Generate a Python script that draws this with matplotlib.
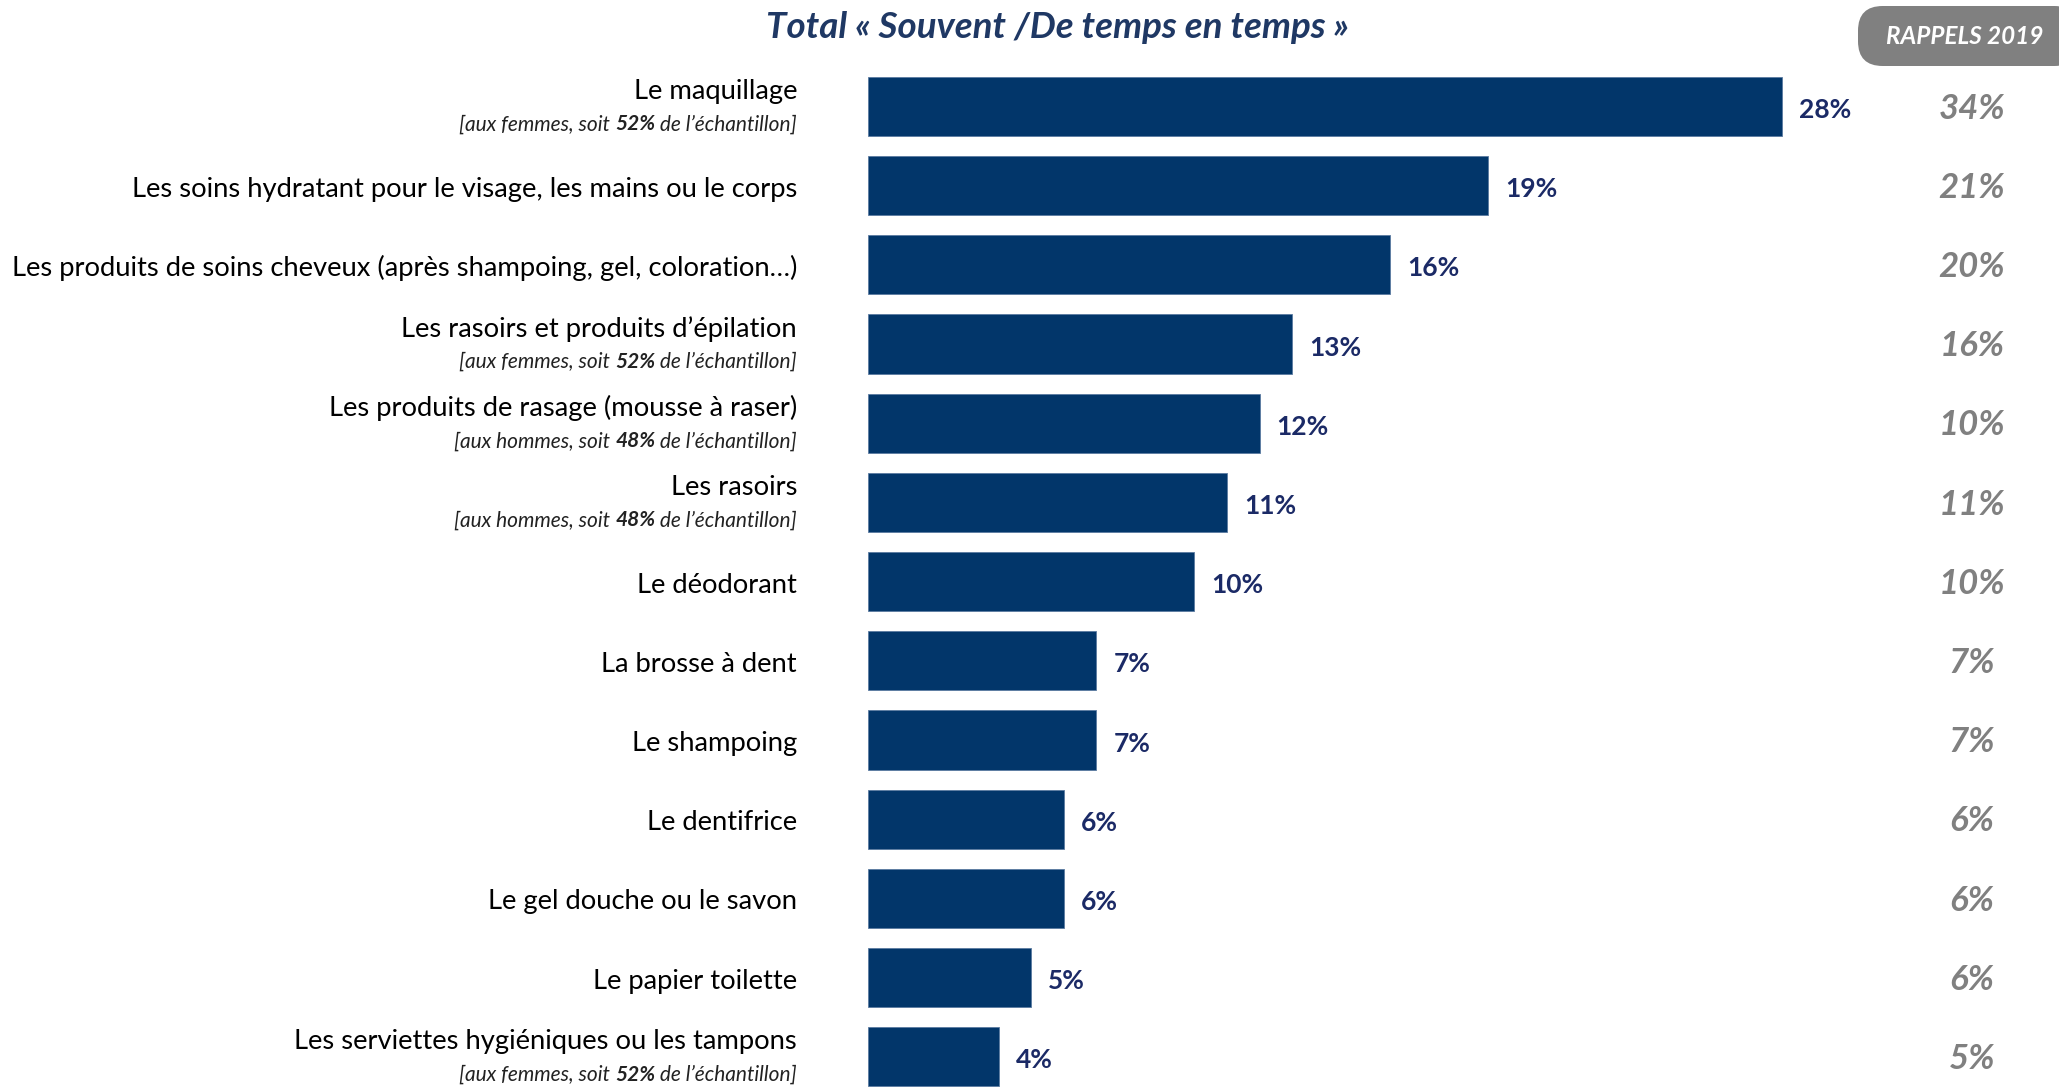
import matplotlib
matplotlib.use("Agg")
import matplotlib.pyplot as plt
from matplotlib.patches import FancyBboxPatch

plt.rcParams['font.family'] = ['Lato', 'DejaVu Sans']

categories = [
    "Le maquillage",
    "Les soins hydratant pour le visage, les mains ou le corps",
    "Les produits de soins cheveux (après shampoing, gel, coloration…)",
    "Les rasoirs et produits d’épilation",
    "Les produits de rasage (mousse à raser)",
    "Les rasoirs",
    "Le déodorant",
    "La brosse à dent",
    "Le shampoing",
    "Le dentifrice",
    "Le gel douche ou le savon",
    "Le papier toilette",
    "Les serviettes hygiéniques ou les tampons",
]
subnotes = [
    ("aux femmes", "52%"),
    None,
    None,
    ("aux femmes", "52%"),
    ("aux hommes", "48%"),
    ("aux hommes", "48%"),
    None, None, None, None, None, None,
    ("aux femmes", "52%"),
]
values = [28, 19, 16, 13, 12, 11, 10, 7, 7, 6, 6, 5, 4]
rappels = [34, 21, 20, 16, 10, 11, 10, 7, 7, 6, 6, 6, 5]
title = "Total « Souvent /De temps en temps »"
box_label = "RAPPELS 2019"

W, H = 2059, 1087
fig = plt.figure(figsize=(W / 100, H / 100), dpi=100)
ax = fig.add_axes([0, 0, 1, 1])
ppu = 32.64  # pixels per percent
x0 = 868
row0, rowh = 106.4, 79.2
ax.set_xlim(-x0 / ppu, (W - x0) / ppu)
ax.set_ylim((H - row0) / rowh, -row0 / rowh)
ax.axis('off')

bar_color = '#02366A'
val_color = '#1B2A66'
grey = '#808080'

ys = list(range(len(categories)))
ax.barh(ys, values, height=0.745, color=bar_color, edgecolor='#5a7aa0', linewidth=0.6)

lab_x = (797 - x0) / ppu
rap_x = (1972 - x0) / ppu
main_fs = 19.7
sub_fs = 15
dy = 0.045

fig.canvas.draw()
renderer = fig.canvas.get_renderer()
inv = ax.transData.inverted()

for i, (cat, v, r, sn) in enumerate(zip(categories, values, rappels, subnotes)):
    if sn is None:
        ax.text(lab_x, i + dy, cat, ha='right', va='center', fontsize=main_fs, color='black')
    else:
        ax.text(lab_x, i - 0.232 + dy, cat, ha='right', va='center', fontsize=main_fs, color='black')
        ysub = i + 0.2 + dy * 0.6
        pieces = [(f"[{sn[0]}, soit ", 'normal'), (sn[1], 'bold'), (" de l’échantillon]", 'normal')]
        xr = lab_x
        for txt, wt in reversed(pieces):
            t = ax.text(xr, ysub, txt, ha='right', va='center', fontsize=sub_fs,
                        style='italic', weight=wt, color='#222222')
            bb = t.get_window_extent(renderer=renderer)
            xr = inv.transform((bb.x0, 0))[0]
    ax.text(v + 0.52, i + dy, f"{v}%", ha='left', va='center', fontsize=19,
            weight='bold', color=val_color)
    ax.text(rap_x, i + dy * 0.6, f"{r}%", ha='center', va='center', fontsize=25,
            weight='bold', style='italic', color=grey)

fig.text(1058 / W, 1 - 27 / H, title, ha='center', va='center', fontsize=26.5,
         weight='bold', style='italic', color='#1F3864')

box = FancyBboxPatch((1858 / W, 1 - 66 / H), (W + 20 - 1858) / W, 60 / H,
                     boxstyle="round,pad=0,rounding_size=0.012",
                     transform=fig.transFigure, facecolor=grey, edgecolor='none',
                     mutation_aspect=W / H)
fig.patches.append(box)
fig.text(1965 / W, 1 - 37 / H, box_label, ha='center', va='center', fontsize=17.5,
         weight='bold', style='italic', color='white')

fig.savefig('out.png', dpi=100)
